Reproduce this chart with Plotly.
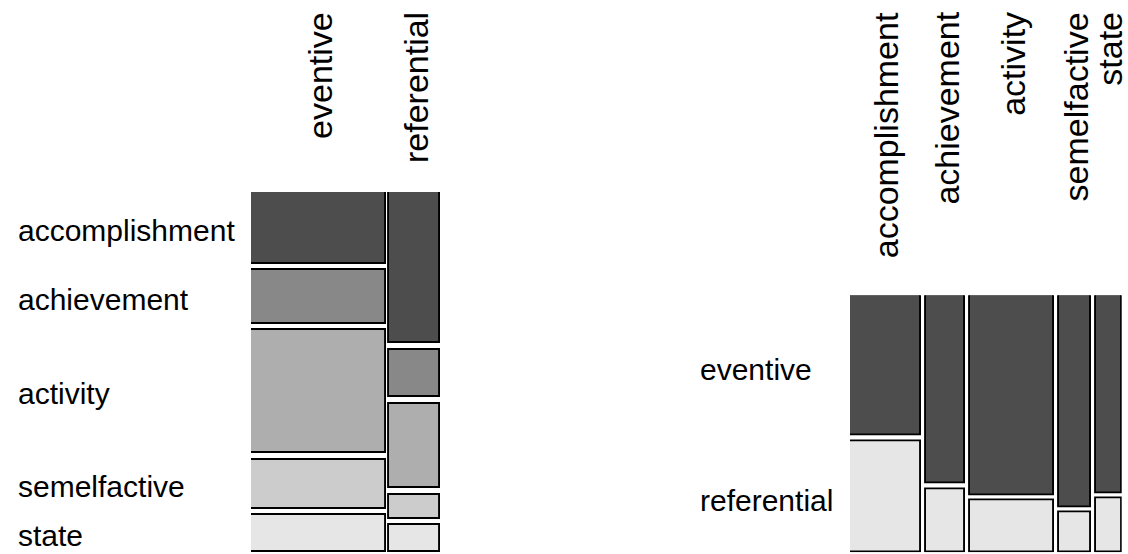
import plotly.graph_objects as go

# ---- data ----
aspects = ["accomplishment", "achievement", "activity", "semelfactive", "state"]
functions = ["eventive", "referential"]
eventive_counts = [156, 116, 266, 106, 81]
referential_counts = [124, 39, 69, 20, 22]
aspect_colors = ["#4D4D4D", "#888888", "#AEAEAE", "#CCCCCC", "#E6E6E6"]
function_colors = ["#4D4D4D", "#E6E6E6"]

W, H = 1128, 554
FONT = "Liberation Sans, Arial, sans-serif"


def mosaic(columns, gx, gy):
    """columns: list of lists of counts (cells top-to-bottom). Returns rects per column."""
    col_sums = [sum(c) for c in columns]
    n = sum(col_sums)
    avail_x = 1 - gx * (len(columns) - 1)
    rects = []
    x0 = 0.0
    for col, cs in zip(columns, col_sums):
        w = avail_x * cs / n
        avail_y = 1 - gy * (len(col) - 1)
        top = 1.0
        col_rects = []
        for cnt in col:
            h = avail_y * cnt / cs
            base = top - h
            col_rects.append((x0, w, base, h))
            top = base - gy
        rects.append(col_rects)
        x0 += w + gx
    return rects


fig = go.Figure()
LINE = dict(color="black", width=1.9)

# ---- left mosaic: columns = functions, rows = aspects ----
left_cols = [eventive_counts, referential_counts]
left = mosaic(left_cols, 0.0175, 0.0178)
for j, col in enumerate(left):
    for i, (x0, w, b, h) in enumerate(col):
        fig.add_trace(go.Bar(
            x=[x0 + w / 2], width=[w], base=[b], y=[h],
            marker=dict(color=aspect_colors[i], line=LINE),
            xaxis="x", yaxis="y", showlegend=False, hoverinfo="skip"))

# ---- right mosaic: columns = aspects, rows = functions ----
right_cols = [[e, r] for e, r in zip(eventive_counts, referential_counts)]
right = mosaic(right_cols, 0.0184, 0.0206)
for j, col in enumerate(right):
    for i, (x0, w, b, h) in enumerate(col):
        fig.add_trace(go.Bar(
            x=[x0 + w / 2], width=[w], base=[b], y=[h],
            marker=dict(color=function_colors[i], line=LINE),
            xaxis="x2", yaxis="y2", showlegend=False, hoverinfo="skip"))

annotations = []
HS = 30     # horizontal label size
RS = 34     # rotated label size

# left plot row labels (centred on first column)
for i, name in enumerate(aspects):
    x0, w, b, h = left[0][i]
    annotations.append(dict(text=name, x=16 / W, xref="paper", y=b + h / 2, yref="y",
                            xanchor="left", yanchor="middle", showarrow=False, yshift=-2,
                            font=dict(size=HS, family=FONT, color="black")))
# left plot column labels
for j, name in enumerate(functions):
    x0, w, b, h = left[j][0]
    annotations.append(dict(text=name, x=x0 + w / 2, xref="x", y=1 - 10 / H, yref="paper",
                            xanchor="center", yanchor="top", textangle=-90, showarrow=False,
                            xshift=1, font=dict(size=RS, family=FONT, color="black")))
# right plot row labels
for i, name in enumerate(functions):
    x0, w, b, h = right[0][i]
    annotations.append(dict(text=name, x=698 / W, xref="paper", y=b + h / 2, yref="y2",
                            xanchor="left", yanchor="middle", showarrow=False, yshift=-4,
                            font=dict(size=HS, family=FONT, color="black")))
# right plot column labels
for j, name in enumerate(aspects):
    x0, w, b, h = right[j][0]
    annotations.append(dict(text=name, x=x0 + w / 2, xref="x2", y=1 - 10 / H, yref="paper",
                            xanchor="center", yanchor="top", textangle=-90, showarrow=False,
                            xshift=1, font=dict(size=RS, family=FONT, color="black")))

ax = dict(range=[0, 1], visible=False, fixedrange=True)
fig.update_layout(
    width=W, height=H,
    margin=dict(l=0, r=0, t=0, b=0),
    paper_bgcolor="white", plot_bgcolor="white",
    barmode="overlay", bargap=0,
    xaxis=dict(ax, domain=[251 / W, 440 / W]),
    yaxis=dict(ax, domain=[(H - 552.3) / H, (H - 192) / H]),
    xaxis2=dict(ax, domain=[850 / W, 1121.7 / W], anchor="y2"),
    yaxis2=dict(ax, domain=[(H - 552.3) / H, (H - 295.3) / H], anchor="x2"),
    annotations=annotations,
)

fig.write_html("out.html", config={"displayModeBar": False},
               post_script="document.body.style.margin='0';document.body.style.overflow='hidden';")
